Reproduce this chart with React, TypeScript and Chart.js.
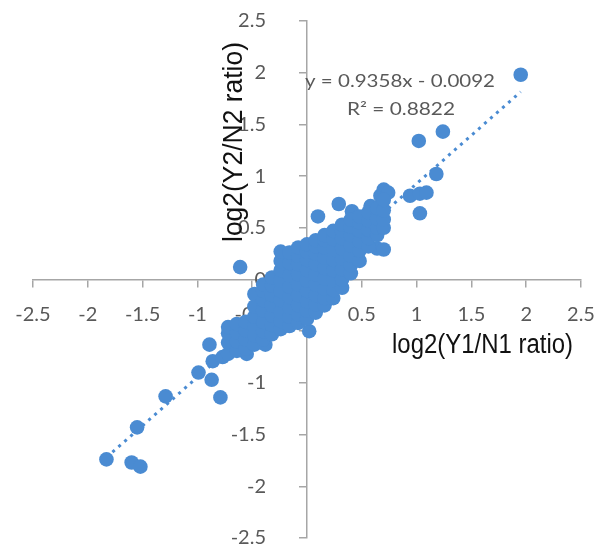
import { useEffect, useRef } from "react";
import { Chart, registerables, Plugin } from "chart.js";

Chart.register(...registerables);

// scattered points away from the dense core: log2(Y1/N1) and log2(Y2/N2)
const tailX = [
  -1.83, -1.6, -1.52, -1.55, -1.29, -0.99, -0.87, -0.89, -0.79, -0.86, -0.77,
  -0.64, -0.55, -0.38, -0.61, 0.02, 0.1, 0.29, 0.41, 0.64, 0.7, 0.58, 0.67,
  0.7, 0.74, 0.94, 1.03, 1.09, 1.03, 1.18, 1.02, 1.24, 1.95,
];
const tailY = [
  -1.74, -1.77, -1.81, -1.43, -1.13, -0.9, -0.97, -0.63, -1.14, -0.79, -0.75,
  -0.68, -0.72, -0.63, 0.12, -0.5, 0.61, 0.73, 0.66, 0.3, 0.29, 0.71, 0.81,
  0.87, 0.84, 0.81, 0.83, 0.84, 0.64, 1.02, 1.34, 1.43, 1.98,
];

// dense core around the origin, read column by column
const coreX = [
  -0.72, -0.64, -0.56, -0.48, -0.4, -0.32, -0.24, -0.16, -0.08, 0, 0.08, 0.16,
  0.24, 0.32, 0.4, 0.48, 0.56, 0.64, 0.7,
];
const coreY = [
  [-0.72, -0.61, -0.52, -0.46],
  [-0.69, -0.6, -0.51, -0.43],
  [-0.67, -0.58, -0.49, -0.41],
  [-0.63, -0.54, -0.45, -0.36, -0.26, -0.14],
  [-0.58, -0.5, -0.41, -0.3, -0.2, -0.11, -0.05],
  [-0.53, -0.44, -0.35, -0.25, -0.15, -0.06, 0.02],
  [-0.48, -0.4, -0.31, -0.2, -0.11, -0.01, 0.09, 0.18, 0.27],
  [-0.45, -0.36, -0.27, -0.17, -0.07, 0.04, 0.16, 0.26],
  [-0.42, -0.34, -0.25, -0.15, -0.05, 0.05, 0.15, 0.23, 0.31],
  [-0.38, -0.3, -0.21, -0.11, -0.01, 0.09, 0.19, 0.27, 0.34],
  [-0.32, -0.24, -0.15, -0.05, 0.05, 0.15, 0.25, 0.32, 0.38],
  [-0.25, -0.18, -0.09, 0.01, 0.11, 0.21, 0.31, 0.38, 0.43],
  [-0.18, -0.1, -0.01, 0.09, 0.19, 0.29, 0.39, 0.47],
  [-0.08, 0.0, 0.1, 0.2, 0.3, 0.4, 0.47, 0.53],
  [0.06, 0.14, 0.23, 0.33, 0.43, 0.51, 0.58],
  [0.18, 0.28, 0.37, 0.47, 0.55, 0.61],
  [0.32, 0.4, 0.48, 0.57, 0.65],
  [0.43, 0.5, 0.59, 0.69],
  [0.5, 0.58, 0.67, 0.77],
];

const tickValues = [-2.5, -2, -1.5, -1, -0.5, 0, 0.5, 1, 1.5, 2, 2.5];

// linear trendline as printed on the chart
const fitSlope = 0.9358;
const fitIntercept = -0.0092;
const fitFrom = -1.83;
const fitTo = 1.95;

const blue = "#4a8bd2";
const grey = "#595959";

function drawText(
  ctx: CanvasRenderingContext2D,
  text: string,
  x: number,
  y: number,
  width: number,
  font: string,
  color: string,
  angle = 0
) {
  ctx.save();
  ctx.translate(x, y);
  ctx.rotate(angle);
  ctx.font = font;
  const w = ctx.measureText(text).width;
  ctx.scale(width / w, 1);
  ctx.fillStyle = color;
  ctx.textAlign = "left";
  ctx.textBaseline = "alphabetic";
  ctx.fillText(text, 0, 0);
  ctx.restore();
}

const labelsPlugin: Plugin<"scatter"> = {
  id: "labels",
  afterDraw(chart) {
    const ctx = chart.ctx;
    drawText(ctx, "log2(Y1/N1 ratio)", 392, 353, 181, "27px 'Liberation Sans', Arial", "#111");
    drawText(ctx, "log2(Y2/N2 ratio)", 242, 242, 200, "27px 'Liberation Sans', Arial", "#111", -Math.PI / 2);
    drawText(ctx, "y = 0.9358x - 0.0092", 305, 87, 190, "17px Lato", grey);
    drawText(ctx, "R\u00b2 = 0.8822", 347, 115, 108, "17px Lato", grey);
  },
};

const tickText = (v: number | string) => String(Math.round(Number(v) * 10) / 10);

export default function App() {
  const chartRef = useRef<HTMLCanvasElement | null>(null);
  const chartInstance = useRef<Chart | null>(null);

  useEffect(() => {
    if (!chartRef.current) return;

    const points = tailX.map((x, i) => ({ x, y: tailY[i] }));
    coreX.forEach((x, i) => {
      coreY[i].forEach((y) => points.push({ x, y }));
    });

    const trend = [fitFrom, fitTo].map((x) => ({ x, y: fitSlope * x + fitIntercept }));

    const noPadding = (scale: any) => {
      scale.paddingTop = 0;
      scale.paddingBottom = 0;
      scale.paddingLeft = 0;
      scale.paddingRight = 0;
    };
    const setTicks = (scale: any) => {
      scale.ticks = tickValues.map((value) => ({ value }));
    };
    const tickFont = { family: "Lato", size: 20 };

    chartInstance.current = new Chart(chartRef.current, {
      type: "scatter",
      data: {
        datasets: [
          {
            label: "points",
            data: points,
            backgroundColor: blue,
            borderWidth: 0,
            pointRadius: 7.3,
            order: 1,
          },
          {
            type: "line",
            label: "trend",
            data: trend,
            borderColor: blue,
            borderWidth: 3,
            borderDash: [3, 5],
            pointRadius: 0,
            fill: false,
            order: 2,
          } as any,
        ],
      },
      options: {
        responsive: true,
        maintainAspectRatio: false,
        animation: false,
        layout: { padding: { left: 33, top: 21, right: 25, bottom: 9 } },
        plugins: {
          legend: { display: false },
          tooltip: { enabled: false },
        },
        scales: {
          x: {
            type: "linear",
            position: { y: 0 } as any,
            min: -2.5,
            max: 2.5,
            z: 1,
            afterBuildTicks: setTicks,
            afterFit: noPadding,
            grid: { drawOnChartArea: false, drawTicks: true, tickLength: 7, color: "#a6a6a6", lineWidth: 1.5 },
            border: { display: true, color: "#a6a6a6", width: 1.5 },
            ticks: {
              color: grey,
              font: tickFont,
              padding: 16,
              maxRotation: 0,
              autoSkip: false,
              callback: (v) => tickText(v),
            },
          },
          y: {
            type: "linear",
            position: { x: 0 } as any,
            min: -2.5,
            max: 2.5,
            z: 1,
            afterBuildTicks: setTicks,
            afterFit: noPadding,
            grid: { drawOnChartArea: false, drawTicks: true, tickLength: 7, color: "#a6a6a6", lineWidth: 1.5 },
            border: { display: true, color: "#a6a6a6", width: 1.5 },
            ticks: {
              color: grey,
              font: tickFont,
              autoSkip: false,
              // labels of a y axis placed at x = 0 sit on the line, so pad them with spaces
              callback: (v) => tickText(v) + "        ",
            },
          },
        },
      },
      plugins: [labelsPlugin],
    });

    return () => {
      if (chartInstance.current) {
        chartInstance.current.destroy();
        chartInstance.current = null;
      }
    };
  }, []);

  return (
    <div style={{ position: "fixed", left: 0, top: 0, width: 606, height: 547, background: "#fff" }}>
      <canvas ref={chartRef} />
    </div>
  );
}
